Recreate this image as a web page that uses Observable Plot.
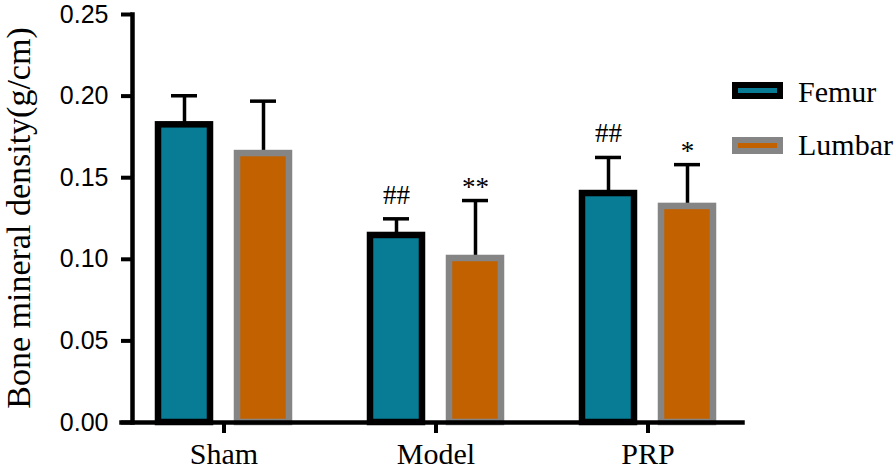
<!DOCTYPE html>
<html><head><meta charset="utf-8">
<script src="https://cdn.jsdelivr.net/npm/d3@7"></script>
<script src="https://cdn.jsdelivr.net/npm/@observablehq/plot@0.6"></script>
<style>
body{margin:0;background:#fff}
#wrap{position:relative;width:896px;height:470px;overflow:hidden}
#ytitle{position:absolute;left:19px;top:218px;transform:translate(-50%,-50%) rotate(-90deg);font-family:"Liberation Serif",serif;font-size:34px;line-height:1;white-space:nowrap;color:#000}
.sw{position:absolute;box-sizing:border-box;width:51px;height:17px;border:6px solid #000}
.lt{position:absolute;font-family:"Liberation Serif",serif;font-size:30px;line-height:30px;white-space:nowrap;color:#000}
</style></head><body>
<div id="wrap"></div>
<script>
const groups = ["Sham", "Model", "PRP"];
const seriesNames = ["Femur", "Lumbar"];
const femurMean = [0.1824, 0.1146, 0.1403];
const femurSD = [0.0178, 0.0102, 0.0221];
const lumbarMean = [0.1648, 0.1005, 0.1324];
const lumbarSD = [0.0321, 0.0355, 0.0256];
const femurSig = ["", "##", "##"];
const lumbarSig = ["", "**", "*"];
const yTicks = [0, 0.05, 0.10, 0.15, 0.20, 0.25];
const fillColors = ["#087C94", "#C26100"];
const strokeColors = ["#000000", "#858585"];

const rows = [];
groups.forEach((g, i) => {
  rows.push({group: g, series: seriesNames[0], mean: femurMean[i], sd: femurSD[i], sig: femurSig[i]});
  rows.push({group: g, series: seriesNames[1], mean: lumbarMean[i], sd: lumbarSD[i], sig: lumbarSig[i]});
});
const femurRows = rows.filter(d => d.series === seriesNames[0]);
const lumbarRows = rows.filter(d => d.series === seriesNames[1]);
const hashRows = rows.filter(d => d.sig && d.sig.startsWith("#"));
const starRows = rows.filter(d => d.sig && d.sig.startsWith("*"));

const chart = Plot.plot({
  width: 896, height: 470,
  marginTop: 14, marginBottom: 48, marginLeft: 131, marginRight: 155,
  fx: {domain: groups, paddingInner: 0.136, paddingOuter: 0, label: null},
  x: {domain: seriesNames, paddingInner: 0.3375, paddingOuter: 0.319, axis: null},
  y: {domain: [0, 0.25], label: null},
  style: {background: "white", overflow: "visible"},
  marks: [
    Plot.ruleX(rows, {fx: "group", x: "series", y1: "mean", y2: d => d.mean + d.sd, strokeWidth: 3.5, stroke: "#000"}),
    Plot.tickY(rows, {fx: "group", x: "series", y: d => d.mean + d.sd, strokeWidth: 3.5, stroke: "#000", insetLeft: 13, insetRight: 13}),
    Plot.barY(femurRows, {fx: "group", x: "series", y: "mean", fill: fillColors[0], stroke: strokeColors[0], strokeWidth: 6.5}),
    Plot.barY(lumbarRows, {fx: "group", x: "series", y: "mean", fill: fillColors[1], stroke: strokeColors[1], strokeWidth: 6.5}),
    Plot.text(hashRows, {fx: "group", x: "series", y: d => d.mean + d.sd, text: "sig", dy: -15, lineAnchor: "bottom", fontSize: 27, fontFamily: "Liberation Serif", fill: "#000"}),
    Plot.text(starRows, {fx: "group", x: "series", y: d => d.mean + d.sd, text: "sig", dy: -5, lineAnchor: "bottom", fontSize: 27, fontFamily: "Liberation Serif", fill: "#000"}),
    Plot.axisY({ticks: yTicks, tickSize: 11, tickPadding: 13, strokeWidth: 4, tickFormat: d3.format(".2f"), fontSize: 25, fontFamily: "Liberation Sans", label: null, color: "#000"}),
    Plot.axisFx({anchor: "bottom", tickSize: 11, tickPadding: 9, strokeWidth: 4, fontSize: 30, fontFamily: "Liberation Serif", label: null, color: "#000"}),
    Plot.frame({anchor: "left", facet: "super", strokeWidth: 4.5, stroke: "#000"}),
    Plot.frame({anchor: "bottom", facet: "super", strokeWidth: 4.5, stroke: "#000", insetLeft: -11, insetRight: -3})
  ]
});
const wrap = document.getElementById("wrap");
wrap.appendChild(chart);

const yt = document.createElement("div");
yt.id = "ytitle";
yt.textContent = "Bone mineral density(g/cm)";
wrap.appendChild(yt);

const legendTops = [82, 137];
const textTops = [77, 130];
seriesNames.forEach((s, i) => {
  const sw = document.createElement("div");
  sw.className = "sw";
  sw.style.left = "732px";
  sw.style.top = legendTops[i] + "px";
  sw.style.background = fillColors[i];
  sw.style.borderColor = strokeColors[i];
  wrap.appendChild(sw);
  const t = document.createElement("div");
  t.className = "lt";
  t.style.left = "798px";
  t.style.top = textTops[i] + "px";
  t.textContent = s;
  wrap.appendChild(t);
});
</script>
</body></html>
